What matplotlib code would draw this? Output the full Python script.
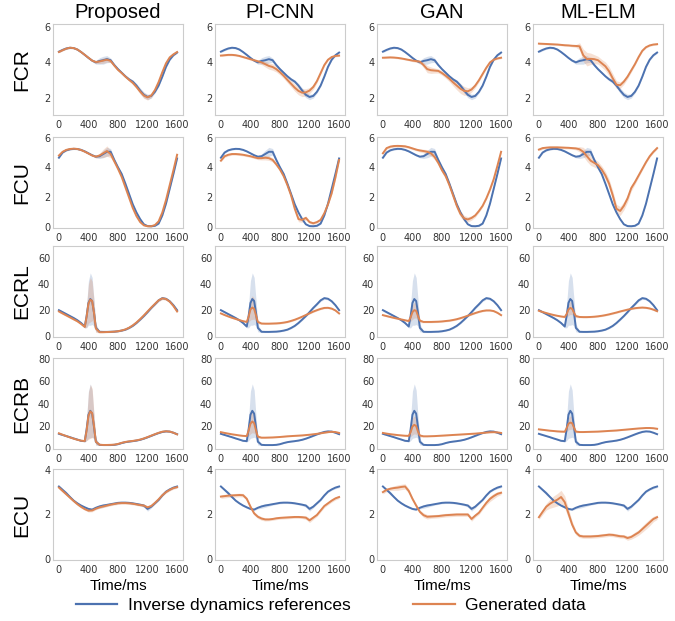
import numpy as np
import matplotlib.pyplot as plt
from matplotlib.lines import Line2D

methods = ['Proposed', 'PI-CNN', 'GAN', 'ML-ELM']
muscles = ['FCR', 'FCU', 'ECRL', 'ECRB', 'ECU']

# time axes (ms)
t = np.arange(0, 1601, 50)
t_spk = [0, 50, 100, 150, 200, 250, 300, 350, 375, 400, 425, 450, 475, 500,
         550, 600, 650, 700, 750, 800, 850, 900, 950, 1000, 1050, 1100, 1150,
         1200, 1250, 1300, 1350, 1400, 1450, 1500, 1550, 1600]

# ---- FCR ----
fcr_ref = [4.60, 4.70, 4.78, 4.82, 4.80, 4.72, 4.58, 4.42, 4.25, 4.10, 4.00,
           4.08, 4.12, 4.18, 4.12, 3.85, 3.62, 3.42, 3.22, 3.05, 2.92,
           2.70, 2.42, 2.18, 2.06, 2.12, 2.35, 2.70, 3.20, 3.75, 4.15, 4.40, 4.55]
fcr_ref_sd = [0.05, 0.05, 0.05, 0.05, 0.05, 0.05, 0.05, 0.05, 0.05, 0.06, 0.10,
              0.18, 0.22, 0.20, 0.12, 0.08, 0.06, 0.06, 0.06, 0.08, 0.10,
              0.12, 0.15, 0.16, 0.15, 0.12, 0.08, 0.06, 0.05, 0.05, 0.05, 0.05, 0.05]
fcr_prop = [4.58, 4.68, 4.77, 4.82, 4.80, 4.72, 4.58, 4.42, 4.26, 4.10, 4.02,
            4.05, 4.10, 4.15, 4.08, 3.82, 3.58, 3.40, 3.20, 3.02, 2.85,
            2.62, 2.36, 2.14, 2.04, 2.14, 2.45, 2.90, 3.45, 3.95, 4.28, 4.45, 4.58]
fcr_prop_sd = [0.04, 0.04, 0.04, 0.04, 0.04, 0.04, 0.04, 0.04, 0.05, 0.06, 0.08,
               0.12, 0.15, 0.14, 0.10, 0.08, 0.06, 0.06, 0.06, 0.07, 0.08,
               0.10, 0.14, 0.16, 0.15, 0.12, 0.08, 0.06, 0.05, 0.04, 0.04, 0.04, 0.04]
fcr_pi = [4.38, 4.40, 4.42, 4.42, 4.40, 4.36, 4.30, 4.24, 4.18, 4.12, 4.06,
          4.00, 3.90, 3.80, 3.74, 3.62, 3.45, 3.25, 3.02, 2.80, 2.58,
          2.40, 2.30, 2.32, 2.42, 2.62, 2.95, 3.40, 3.85, 4.15, 4.30, 4.36, 4.38]
fcr_pi_sd = [0.05, 0.05, 0.05, 0.05, 0.05, 0.05, 0.05, 0.05, 0.06, 0.07, 0.09,
             0.12, 0.16, 0.18, 0.18, 0.16, 0.15, 0.15, 0.16, 0.18, 0.20,
             0.22, 0.22, 0.20, 0.17, 0.14, 0.10, 0.08, 0.06, 0.05, 0.05, 0.05, 0.05]
fcr_gan = [4.26, 4.27, 4.28, 4.27, 4.25, 4.22, 4.18, 4.14, 4.10, 4.07, 4.04,
           3.85, 3.62, 3.56, 3.54, 3.52, 3.40, 3.25, 3.08, 2.88, 2.70,
           2.52, 2.40, 2.38, 2.48, 2.70, 3.00, 3.35, 3.70, 4.00, 4.15, 4.22, 4.26]
fcr_gan_sd = [0.05, 0.05, 0.05, 0.05, 0.05, 0.05, 0.05, 0.05, 0.06, 0.07, 0.08,
              0.15, 0.20, 0.18, 0.14, 0.12, 0.12, 0.14, 0.16, 0.20, 0.24,
              0.26, 0.25, 0.20, 0.15, 0.12, 0.10, 0.08, 0.06, 0.05, 0.05, 0.05, 0.05]
fcr_elm = [5.05, 5.04, 5.03, 5.02, 5.01, 5.00, 4.98, 4.96, 4.95, 4.93, 4.92,
           4.90, 4.40, 4.18, 4.20, 4.18, 4.12, 3.95, 3.78, 3.50, 3.10,
           2.75, 2.72, 2.92, 3.20, 3.55, 3.90, 4.30, 4.65, 4.85, 4.95, 5.00, 5.02]
fcr_elm_sd = [0.05, 0.05, 0.05, 0.05, 0.05, 0.05, 0.05, 0.05, 0.05, 0.06, 0.08,
              0.20, 0.35, 0.38, 0.32, 0.25, 0.22, 0.22, 0.24, 0.26, 0.26,
              0.22, 0.18, 0.15, 0.12, 0.10, 0.08, 0.06, 0.05, 0.05, 0.05, 0.05, 0.05]

# ---- FCU ----
fcu_ref = [4.65, 5.00, 5.15, 5.22, 5.25, 5.24, 5.18, 5.08, 4.95, 4.82, 4.72,
           4.75, 4.90, 5.05, 5.05, 4.50, 4.00, 3.55, 2.90, 2.20, 1.50,
           0.95, 0.50, 0.15, 0.03, 0.02, 0.05, 0.20, 0.75, 1.55, 2.55, 3.55, 4.60]
fcu_ref_sd = [0.05, 0.05, 0.05, 0.05, 0.05, 0.05, 0.05, 0.05, 0.05, 0.06, 0.08,
              0.15, 0.25, 0.30, 0.22, 0.10, 0.06, 0.05, 0.05, 0.05, 0.05,
              0.05, 0.05, 0.05, 0.05, 0.05, 0.05, 0.05, 0.05, 0.05, 0.05, 0.05, 0.05]
fcu_prop = [4.80, 5.05, 5.18, 5.24, 5.26, 5.24, 5.17, 5.06, 4.93, 4.80, 4.72,
            4.80, 4.95, 5.10, 4.90, 4.40, 3.90, 3.35, 2.65, 1.95, 1.25,
            0.70, 0.30, 0.08, 0.02, 0.02, 0.10, 0.35, 0.95, 1.80, 2.80, 3.80, 4.85]
fcu_prop_sd = [0.05, 0.05, 0.05, 0.05, 0.05, 0.05, 0.05, 0.05, 0.05, 0.06, 0.08,
               0.15, 0.28, 0.35, 0.25, 0.12, 0.08, 0.06, 0.05, 0.05, 0.05,
               0.05, 0.05, 0.05, 0.05, 0.05, 0.05, 0.05, 0.05, 0.05, 0.05, 0.05, 0.05]
fcu_pi = [4.45, 4.75, 4.85, 4.90, 4.90, 4.88, 4.85, 4.80, 4.75, 4.68, 4.62,
          4.62, 4.65, 4.62, 4.50, 4.20, 3.85, 3.40, 2.80, 2.10, 1.20,
          0.50, 0.45, 0.58, 0.30, 0.22, 0.30, 0.45, 0.90, 1.50, 2.25, 3.30, 4.50]
fcu_pi_sd = [0.08, 0.08, 0.08, 0.08, 0.08, 0.08, 0.08, 0.08, 0.08, 0.08, 0.10,
             0.12, 0.15, 0.15, 0.14, 0.12, 0.12, 0.14, 0.16, 0.18, 0.20,
             0.18, 0.16, 0.14, 0.10, 0.08, 0.08, 0.08, 0.08, 0.08, 0.08, 0.08, 0.08]
fcu_gan = [4.95, 5.30, 5.40, 5.44, 5.45, 5.44, 5.42, 5.36, 5.28, 5.20, 5.14,
           5.10, 5.05, 4.95, 4.70, 4.30, 3.80, 3.40, 2.80, 2.10, 1.40,
           0.85, 0.55, 0.48, 0.58, 0.75, 1.05, 1.40, 1.90, 2.50, 3.20, 4.10, 5.05]
fcu_gan_sd = [0.08, 0.08, 0.08, 0.08, 0.08, 0.08, 0.08, 0.08, 0.08, 0.08, 0.10,
              0.12, 0.15, 0.18, 0.18, 0.16, 0.16, 0.18, 0.20, 0.22, 0.24,
              0.22, 0.20, 0.18, 0.15, 0.12, 0.10, 0.08, 0.08, 0.08, 0.08, 0.08, 0.08]
fcu_elm = [5.20, 5.30, 5.33, 5.35, 5.35, 5.35, 5.34, 5.33, 5.32, 5.30, 5.28,
           5.22, 5.05, 4.75, 4.45, 4.30, 4.15, 3.85, 3.45, 2.90, 2.10,
           1.20, 1.05, 1.40, 1.90, 2.60, 3.00, 3.45, 3.90, 4.35, 4.75, 5.05, 5.30]
fcu_elm_sd = [0.08, 0.08, 0.08, 0.08, 0.08, 0.08, 0.08, 0.08, 0.08, 0.08, 0.10,
              0.18, 0.30, 0.35, 0.32, 0.28, 0.25, 0.25, 0.28, 0.30, 0.32,
              0.30, 0.30, 0.28, 0.25, 0.20, 0.15, 0.12, 0.10, 0.08, 0.08, 0.08, 0.08]

# ---- ECRL ----
ecrl_ref = [20.0, 18.5, 17.0, 15.5, 14.0, 12.3, 10.2, 7.5, 15.5, 25.5, 28.5, 27.0, 18.0, 6.5,
            3.5, 3.4, 3.4, 3.5, 3.6, 3.9, 4.4, 5.1, 6.4, 8.0, 10.2, 12.8, 15.5,
            18.5, 21.7, 24.5, 27.5, 29.2, 28.7, 26.8, 23.8, 20.0]
ecrl_ref_sd = [0.8, 0.8, 0.7, 0.7, 0.7, 0.7, 0.7, 1.0, 9.0, 17.0, 20.0, 18.0, 10.0, 3.0,
               0.6, 0.5, 0.5, 0.5, 0.5, 0.5, 0.5, 0.5, 0.6, 0.6, 0.6, 0.7, 0.7,
               0.8, 0.8, 0.8, 0.9, 0.9, 0.9, 0.9, 0.8, 0.8]
ecrl_prop = [19.0, 17.5, 16.0, 14.5, 13.0, 11.5, 9.5, 7.2, 15.0, 25.0, 28.0, 27.0, 18.0, 6.0,
             3.2, 3.2, 3.3, 3.4, 3.6, 3.9, 4.5, 5.3, 6.6, 8.4, 10.6, 13.2, 16.0,
             19.0, 22.0, 24.8, 27.5, 29.0, 28.5, 26.5, 23.2, 19.0]
ecrl_prop_sd = [0.8, 0.8, 0.7, 0.7, 0.7, 0.7, 0.7, 1.0, 8.0, 15.0, 17.0, 15.0, 9.0, 3.0,
                0.6, 0.5, 0.5, 0.5, 0.5, 0.5, 0.5, 0.5, 0.6, 0.6, 0.6, 0.7, 0.7,
                0.8, 0.8, 0.8, 0.9, 0.9, 0.9, 0.9, 0.8, 0.8]
ecrl_pi = [17.5, 16.3, 15.2, 14.2, 13.3, 12.4, 11.6, 11.0, 15.0, 20.5, 22.0, 21.0, 16.0, 11.0,
           9.8, 9.7, 9.7, 9.8, 9.9, 10.1, 10.5, 11.0, 11.8, 12.7, 13.8, 15.0, 16.3,
           17.6, 18.9, 20.0, 21.0, 21.7, 21.8, 21.2, 19.8, 17.5]
ecrl_pi_sd = [0.6, 0.6, 0.6, 0.6, 0.6, 0.6, 0.6, 0.8, 4.0, 8.0, 9.0, 8.0, 4.5, 1.5,
              0.6, 0.6, 0.6, 0.6, 0.6, 0.6, 0.6, 0.6, 0.6, 0.6, 0.6, 0.6, 0.6,
              0.6, 0.6, 0.6, 0.6, 0.6, 0.6, 0.6, 0.6, 0.6]
ecrl_gan = [16.2, 15.5, 14.8, 14.1, 13.5, 12.9, 12.3, 11.7, 14.5, 18.5, 20.0, 19.5, 15.5, 12.0,
            11.0, 11.0, 11.0, 11.1, 11.2, 11.4, 11.7, 12.0, 12.5, 13.1, 13.9, 14.8, 15.8,
            16.8, 17.8, 18.7, 19.4, 19.8, 19.8, 19.3, 18.0, 16.2]
ecrl_gan_sd = [0.6, 0.6, 0.6, 0.6, 0.6, 0.6, 0.6, 0.8, 3.0, 5.5, 6.0, 5.5, 3.5, 1.5,
               0.6, 0.6, 0.6, 0.6, 0.6, 0.6, 0.6, 0.6, 0.6, 0.6, 0.6, 0.6, 0.6,
               0.6, 0.6, 0.6, 0.6, 0.6, 0.6, 0.6, 0.6, 0.6]
ecrl_elm = [19.5, 18.6, 17.8, 17.0, 16.3, 15.7, 15.2, 14.8, 17.0, 20.5, 21.7, 21.0, 18.0, 15.5,
            14.8, 14.7, 14.7, 14.8, 15.0, 15.3, 15.7, 16.2, 16.8, 17.5, 18.2, 19.0, 19.7,
            20.4, 21.0, 21.5, 21.8, 22.0, 21.8, 21.3, 20.4, 19.2]
ecrl_elm_sd = [0.6, 0.6, 0.6, 0.6, 0.6, 0.6, 0.6, 0.8, 2.5, 4.5, 5.0, 4.5, 3.0, 1.2,
               0.6, 0.6, 0.6, 0.6, 0.6, 0.6, 0.6, 0.6, 0.6, 0.6, 0.6, 0.6, 0.6,
               0.6, 0.6, 0.6, 0.6, 0.6, 0.6, 0.6, 0.6, 0.6]

# ---- ECRB ----
ecrb_ref = [13.0, 12.0, 11.0, 10.0, 8.9, 7.9, 6.8, 6.5, 17.0, 30.0, 33.5, 31.0, 19.0, 6.0,
            3.2, 3.0, 3.0, 3.0, 3.2, 3.8, 4.8, 5.6, 6.1, 6.5, 7.0, 7.7, 8.7,
            9.9, 11.2, 12.5, 13.7, 14.7, 15.2, 15.0, 14.0, 12.7]
ecrb_ref_sd = [0.5, 0.5, 0.5, 0.5, 0.5, 0.5, 0.5, 0.8, 10.0, 21.0, 24.0, 21.0, 10.0, 3.0,
               0.4, 0.4, 0.4, 0.4, 0.4, 0.4, 0.4, 0.4, 0.4, 0.4, 0.4, 0.4, 0.4,
               0.4, 0.5, 0.5, 0.5, 0.5, 0.5, 0.5, 0.5, 0.5]
ecrb_prop = [13.5, 12.2, 11.0, 9.8, 8.7, 7.7, 6.9, 6.6, 16.0, 29.0, 33.0, 31.5, 20.0, 6.0,
             3.3, 3.1, 3.1, 3.2, 3.4, 4.0, 5.0, 5.8, 6.3, 6.7, 7.2, 7.9, 8.9,
             10.1, 11.4, 12.7, 13.9, 14.9, 15.3, 15.0, 14.0, 12.5]
ecrb_prop_sd = [0.5, 0.5, 0.5, 0.5, 0.5, 0.5, 0.5, 0.8, 9.0, 21.0, 24.0, 22.0, 11.0, 3.0,
                0.4, 0.4, 0.4, 0.4, 0.4, 0.4, 0.4, 0.4, 0.4, 0.4, 0.4, 0.4, 0.4,
                0.4, 0.5, 0.5, 0.5, 0.5, 0.5, 0.5, 0.5, 0.5]
ecrb_pi = [14.5, 13.8, 13.2, 12.6, 12.1, 11.6, 11.2, 11.0, 16.0, 22.0, 24.0, 22.5, 16.0, 10.5,
           9.6, 9.6, 9.7, 9.8, 10.0, 10.2, 10.5, 10.8, 11.0, 11.2, 11.4, 11.6, 11.9,
           12.2, 12.6, 13.0, 13.5, 14.0, 14.5, 14.8, 14.6, 13.8]
ecrb_pi_sd = [0.5, 0.5, 0.5, 0.5, 0.5, 0.5, 0.5, 0.8, 5.0, 9.0, 10.0, 9.0, 5.0, 1.5,
              0.5, 0.5, 0.5, 0.5, 0.5, 0.5, 0.5, 0.5, 0.5, 0.5, 0.5, 0.5, 0.5,
              0.5, 0.5, 0.5, 0.5, 0.5, 0.5, 0.5, 0.5, 0.5]
ecrb_gan = [13.8, 13.2, 12.7, 12.3, 11.9, 11.6, 11.3, 11.2, 14.5, 19.5, 21.0, 20.0, 15.0, 11.5,
            10.8, 10.8, 10.9, 11.0, 11.2, 11.4, 11.6, 11.8, 12.0, 12.2, 12.4, 12.6, 12.8,
            13.0, 13.2, 13.5, 13.8, 14.1, 14.4, 14.5, 14.3, 13.8]
ecrb_gan_sd = [0.5, 0.5, 0.5, 0.5, 0.5, 0.5, 0.5, 0.8, 4.0, 7.5, 8.0, 7.5, 4.0, 1.5,
               0.5, 0.5, 0.5, 0.5, 0.5, 0.5, 0.5, 0.5, 0.5, 0.5, 0.5, 0.5, 0.5,
               0.5, 0.5, 0.5, 0.5, 0.5, 0.5, 0.5, 0.5, 0.5]
ecrb_elm = [17.0, 16.6, 16.2, 15.8, 15.5, 15.2, 15.0, 14.9, 18.0, 22.0, 23.0, 22.5, 18.5, 15.0,
            14.6, 14.6, 14.7, 14.8, 14.9, 15.0, 15.2, 15.4, 15.6, 15.8, 16.0, 16.3, 16.6,
            16.9, 17.2, 17.5, 17.8, 18.0, 18.2, 18.2, 18.0, 17.5]
ecrb_elm_sd = [0.5, 0.5, 0.5, 0.5, 0.5, 0.5, 0.5, 0.8, 3.0, 5.5, 6.0, 5.5, 3.0, 1.2,
               0.5, 0.5, 0.5, 0.5, 0.5, 0.5, 0.5, 0.5, 0.5, 0.5, 0.5, 0.5, 0.5,
               0.5, 0.5, 0.5, 0.5, 0.5, 0.5, 0.5, 0.5, 0.5]

# ---- ECU ----
ecu_ref = [3.25, 3.10, 2.95, 2.78, 2.62, 2.50, 2.40, 2.32, 2.25, 2.22, 2.30,
           2.36, 2.40, 2.43, 2.46, 2.49, 2.52, 2.53, 2.53, 2.52, 2.50,
           2.47, 2.44, 2.40, 2.25, 2.35, 2.50, 2.65, 2.85, 3.02, 3.12, 3.20, 3.25]
ecu_ref_sd = [0.04, 0.06, 0.08, 0.05, 0.04, 0.04, 0.04, 0.04, 0.04, 0.04, 0.05,
              0.08, 0.08, 0.06, 0.04, 0.04, 0.04, 0.04, 0.04, 0.04, 0.04,
              0.04, 0.05, 0.07, 0.10, 0.06, 0.04, 0.04, 0.04, 0.04, 0.04, 0.05, 0.05]
ecu_prop = [3.20, 3.05, 2.90, 2.75, 2.60, 2.46, 2.34, 2.24, 2.17, 2.18, 2.26,
            2.32, 2.36, 2.40, 2.44, 2.47, 2.50, 2.51, 2.51, 2.50, 2.48,
            2.45, 2.42, 2.40, 2.32, 2.38, 2.52, 2.68, 2.86, 3.00, 3.10, 3.18, 3.22]
ecu_prop_sd = [0.05, 0.05, 0.05, 0.05, 0.05, 0.05, 0.05, 0.05, 0.06, 0.06, 0.05,
               0.05, 0.05, 0.05, 0.05, 0.05, 0.05, 0.05, 0.05, 0.05, 0.05,
               0.05, 0.05, 0.06, 0.07, 0.06, 0.05, 0.05, 0.05, 0.05, 0.05, 0.05, 0.05]
ecu_pi = [2.80, 2.82, 2.84, 2.85, 2.86, 2.87, 2.86, 2.70, 2.35, 2.05, 1.90,
          1.82, 1.78, 1.78, 1.80, 1.83, 1.85, 1.86, 1.87, 1.88, 1.89,
          1.89, 1.88, 1.86, 1.74, 1.86, 1.98, 2.18, 2.38, 2.50, 2.62, 2.72, 2.78]
ecu_pi_sd = [0.08, 0.08, 0.08, 0.08, 0.08, 0.08, 0.08, 0.08, 0.08, 0.08, 0.08,
             0.08, 0.07, 0.06, 0.06, 0.06, 0.06, 0.06, 0.06, 0.06, 0.06,
             0.06, 0.06, 0.08, 0.10, 0.08, 0.07, 0.07, 0.07, 0.07, 0.07, 0.07, 0.07]
ecu_gan = [3.00, 3.10, 3.15, 3.18, 3.20, 3.23, 3.25, 3.05, 2.70, 2.40, 2.12,
           1.97, 1.90, 1.91, 1.92, 1.93, 1.95, 1.97, 1.98, 1.99, 2.00,
           2.00, 2.00, 2.00, 1.80, 1.95, 2.08, 2.30, 2.52, 2.70, 2.82, 2.92, 2.97]
ecu_gan_sd = [0.08, 0.08, 0.08, 0.10, 0.12, 0.12, 0.12, 0.10, 0.08, 0.08, 0.08,
              0.10, 0.10, 0.08, 0.08, 0.08, 0.08, 0.08, 0.08, 0.08, 0.08,
              0.08, 0.08, 0.08, 0.10, 0.08, 0.08, 0.08, 0.10, 0.12, 0.12, 0.10, 0.08]
ecu_elm = [1.88, 2.12, 2.35, 2.48, 2.58, 2.66, 2.78, 2.55, 2.05, 1.55, 1.20,
           1.05, 1.02, 1.02, 1.02, 1.03, 1.04, 1.06, 1.08, 1.10, 1.09,
           1.06, 1.03, 1.02, 0.95, 1.00, 1.10, 1.20, 1.35, 1.50, 1.65, 1.80, 1.88]
ecu_elm_sd = [0.10, 0.12, 0.15, 0.20, 0.25, 0.28, 0.30, 0.28, 0.22, 0.15, 0.10,
              0.08, 0.08, 0.08, 0.08, 0.08, 0.08, 0.08, 0.08, 0.08, 0.08,
              0.08, 0.08, 0.08, 0.10, 0.10, 0.12, 0.12, 0.14, 0.15, 0.15, 0.12, 0.10]

rows = [
    (t, fcr_ref, fcr_ref_sd, [fcr_prop, fcr_pi, fcr_gan, fcr_elm],
     [fcr_prop_sd, fcr_pi_sd, fcr_gan_sd, fcr_elm_sd], (1.05, 6.15), [2, 4, 6]),
    (t, fcu_ref, fcu_ref_sd, [fcu_prop, fcu_pi, fcu_gan, fcu_elm],
     [fcu_prop_sd, fcu_pi_sd, fcu_gan_sd, fcu_elm_sd], (-0.1, 6.05), [0, 2, 4, 6]),
    (t_spk, ecrl_ref, ecrl_ref_sd, [ecrl_prop, ecrl_pi, ecrl_gan, ecrl_elm],
     [ecrl_prop_sd, ecrl_pi_sd, ecrl_gan_sd, ecrl_elm_sd], (-0.5, 69), [0, 20, 40, 60]),
    (t_spk, ecrb_ref, ecrb_ref_sd, [ecrb_prop, ecrb_pi, ecrb_gan, ecrb_elm],
     [ecrb_prop_sd, ecrb_pi_sd, ecrb_gan_sd, ecrb_elm_sd], (-0.5, 80.5), [0, 20, 40, 60, 80]),
    (t, ecu_ref, ecu_ref_sd, [ecu_prop, ecu_pi, ecu_gan, ecu_elm],
     [ecu_prop_sd, ecu_pi_sd, ecu_gan_sd, ecu_elm_sd], (-0.03, 4.03), [0, 2, 4]),
]

blue = '#4C72B0'
orange = '#DD8452'
W, H = 675, 621
col_left = [53, 215, 377, 533]
row_top = [24, 137, 246, 358, 469]
ax_w, ax_h = 130, 91
big_font = 'Liberation Sans'

fig = plt.figure(figsize=(6.75, 6.21), dpi=100)

for r, (tt, ref, ref_sd, gens, gen_sds, ylim, yticks) in enumerate(rows):
    ref = np.array(ref)
    ref_sd = np.array(ref_sd)
    for c in range(4):
        ax = fig.add_axes([col_left[c] / W, 1 - (row_top[r] + ax_h) / H, ax_w / W, ax_h / H])
        g = np.array(gens[c])
        gs = np.array(gen_sds[c])
        ax.fill_between(tt, ref - ref_sd, ref + ref_sd, color=blue, alpha=0.22, lw=0)
        ax.fill_between(tt, g - gs, g + gs, color=orange, alpha=0.25, lw=0)
        ax.plot(tt, ref, color=blue, lw=1.4)
        ax.plot(tt, g, color=orange, lw=1.4)
        ax.set_xlim(-80, 1680)
        ax.set_ylim(*ylim)
        ax.set_xticks([0, 400, 800, 1200, 1600])
        ax.set_yticks(yticks)
        ax.tick_params(length=0, labelsize=7, colors='#333333')
        ax.tick_params(axis='x', pad=3.5)
        ax.tick_params(axis='y', pad=2)
        for s in ax.spines.values():
            s.set_color('#cccccc')
            s.set_linewidth(0.8)
        if r == 0:
            ax.set_title(methods[c], fontsize=14.5, family=big_font, pad=4)
        if r == 4:
            ax.set_xlabel('Time/ms', fontsize=11, family=big_font, labelpad=3)
    fig.text(22 / W, 1 - (row_top[r] + ax_h / 2) / H, muscles[r], rotation=90,
             ha='center', va='center', fontsize=15, family=big_font)

handles = [Line2D([], [], color=blue, lw=1.6), Line2D([], [], color=orange, lw=1.6)]
fig.legend(handles, ['Inverse dynamics references', 'Generated data'], ncol=2,
           loc='center', bbox_to_anchor=(0.49, 1 - 605 / H), frameon=False,
           handlelength=2.4, handletextpad=0.6, columnspacing=3.6,
           prop={'family': big_font, 'size': 12.5})

plt.savefig('out.png', dpi=100)
